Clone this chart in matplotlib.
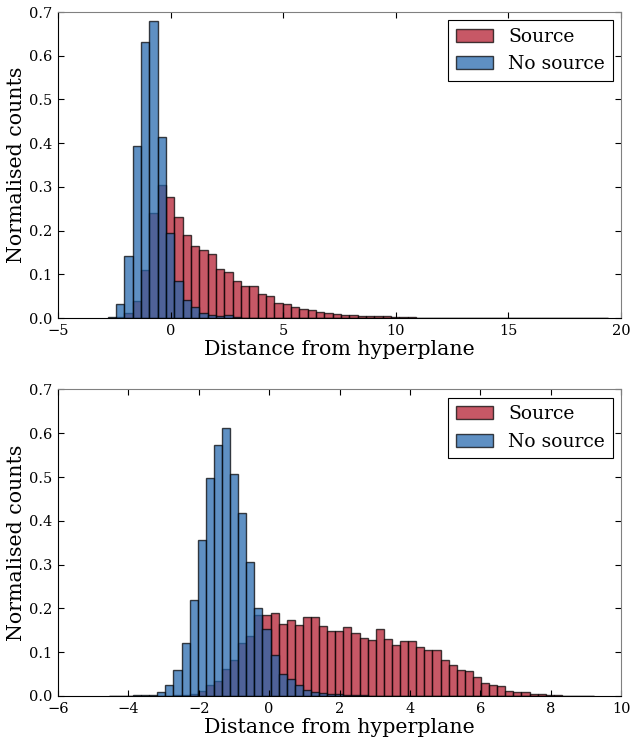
import numpy as np
import matplotlib
matplotlib.use('Agg')
import matplotlib.pyplot as plt

plt.rcParams['font.family'] = ['DejaVu Serif']

# top panel: 60 bins from -2.79, width 0.37
top_start = -2.79
top_width = 0.37
top_source = [0.000, 0.002, 0.012, 0.039, 0.109, 0.241, 0.304, 0.277, 0.230, 0.191,
              0.164, 0.155, 0.147, 0.113, 0.105, 0.085, 0.073, 0.073, 0.054, 0.050,
              0.034, 0.031, 0.025, 0.021, 0.018, 0.014, 0.012, 0.010, 0.008, 0.007,
              0.005, 0.005, 0.005, 0.004, 0.003, 0.002, 0.002, 0.001, 0.001, 0.001,
              0.001, 0.001, 0.001, 0.001, 0.001, 0.001, 0.001, 0.001, 0.001, 0.001,
              0.001, 0.001, 0.001, 0.001, 0.000, 0.000, 0.000, 0.000, 0.000, 0.000]
top_nosource = [0.002, 0.033, 0.141, 0.393, 0.632, 0.680, 0.415, 0.195, 0.085, 0.042,
                0.025, 0.011, 0.008, 0.005, 0.006, 0.002, 0.001, 0.001, 0.000, 0.000,
                0.000, 0.000, 0.000, 0.000, 0.000, 0.000, 0.000, 0.000, 0.000, 0.000,
                0.000, 0.000, 0.000, 0.000, 0.000, 0.000, 0.000, 0.000, 0.000, 0.000,
                0.000, 0.000, 0.000, 0.000, 0.000, 0.000, 0.000, 0.000, 0.000, 0.000,
                0.000, 0.000, 0.000, 0.000, 0.000, 0.000, 0.000, 0.000, 0.000, 0.000]

# bottom panel: 60 bins from -4.56, width 0.23
bot_start = -4.56
bot_width = 0.23
bot_source = [0.000, 0.000, 0.000, 0.000, 0.000, 0.000, 0.000, 0.001, 0.002, 0.003,
              0.005, 0.011, 0.024, 0.034, 0.062, 0.083, 0.120, 0.137, 0.186, 0.186,
              0.190, 0.165, 0.174, 0.161, 0.181, 0.181, 0.160, 0.149, 0.148, 0.158,
              0.145, 0.133, 0.127, 0.153, 0.130, 0.116, 0.126, 0.125, 0.113, 0.104,
              0.104, 0.082, 0.070, 0.059, 0.056, 0.044, 0.030, 0.024, 0.023, 0.011,
              0.008, 0.010, 0.004, 0.004, 0.002, 0.002, 0.001, 0.001, 0.001, 0.001]
bot_nosource = [0.001, 0.001, 0.001, 0.002, 0.003, 0.002, 0.009, 0.026, 0.060, 0.121,
                0.220, 0.357, 0.498, 0.573, 0.611, 0.506, 0.418, 0.306, 0.201, 0.154,
                0.094, 0.051, 0.039, 0.024, 0.014, 0.008, 0.006, 0.005, 0.004, 0.003,
                0.002, 0.002, 0.001, 0.001, 0.001, 0.000, 0.000, 0.000, 0.000, 0.000,
                0.000, 0.000, 0.000, 0.000, 0.000, 0.000, 0.000, 0.000, 0.000, 0.000,
                0.000, 0.000, 0.000, 0.000, 0.000, 0.000, 0.000, 0.000, 0.000, 0.000]

red = '#b2182b'
blue = '#2166ac'

fig = plt.figure(figsize=(6.31, 7.42), dpi=100)
ax1 = fig.add_axes([0.0919, 0.5714, 0.8923, 0.4124])
ax2 = fig.add_axes([0.0919, 0.0620, 0.8923, 0.4131])


def draw(ax, start, width, src, nosrc, xlim, xticks):
    left = start + width * np.arange(len(src))
    ax.bar(left, src, width=width, align='edge', color=red, alpha=0.72,
           edgecolor='black', linewidth=1.0, label='Source')
    ax.bar(left, nosrc, width=width, align='edge', color=blue, alpha=0.72,
           edgecolor='black', linewidth=1.0, label='No source')
    ax.set_xlim(xlim)
    ax.set_ylim(0, 0.7)
    ax.set_xticks(xticks)
    ax.set_yticks(np.arange(0, 0.71, 0.1))
    ax.tick_params(direction='in', top=True, right=True, length=4,
                   labelsize=10.5, pad=4)
    for s in ['top', 'right']:
        ax.spines[s].set_color('0.5')
    ax.set_xlabel('Distance from hyperplane', fontsize=14.8, labelpad=2)
    ax.set_ylabel('Normalised counts', fontsize=14.8, labelpad=2)
    leg = ax.legend(loc='upper right', fontsize=13.5, fancybox=False,
                    framealpha=1, edgecolor='black', handlelength=2.0,
                    borderaxespad=0.45)
    leg.get_frame().set_linewidth(0.8)


draw(ax1, top_start, top_width, top_source, top_nosource, (-5, 20),
     [-5, 0, 5, 10, 15, 20])
draw(ax2, bot_start, bot_width, bot_source, bot_nosource, (-6, 10),
     [-6, -4, -2, 0, 2, 4, 6, 8, 10])

fig.savefig('out.png', dpi=100)
